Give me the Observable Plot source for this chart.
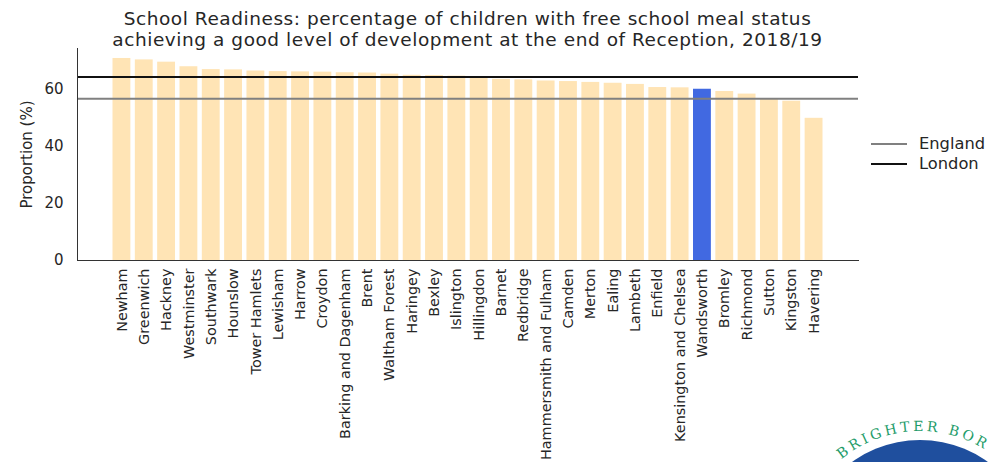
<!DOCTYPE html>
<html><head><meta charset="utf-8">
<script src="https://cdn.jsdelivr.net/npm/d3@7"></script>
<script src="https://cdn.jsdelivr.net/npm/@observablehq/plot@0.6"></script>
<style>
html,body{margin:0;padding:0;background:#fff;}
#wrap{position:relative;width:1004px;height:462px;overflow:hidden;font-family:"DejaVu Sans",sans-serif;color:#262626;}
#chart{position:absolute;left:0;top:0;}
#title{position:absolute;left:0;top:7.5px;width:935px;text-align:center;font-size:18.5px;letter-spacing:0.55px;line-height:21.5px;white-space:nowrap;}
#legend{position:absolute;left:871px;top:134px;font-size:16.3px;line-height:20px;}
#legend .row{display:flex;align-items:center;height:20px;}
#legend .sw{width:36px;height:2px;margin-right:12px;}
#logo{position:absolute;left:0;top:0;}
</style>
</head><body>
<div id="wrap">
  <div id="chart"></div>
  <div id="title">School Readiness: percentage of children with free school meal status<br>achieving a good level of development at the end of Reception, 2018/19</div>
  <div id="legend"></div>
  <svg id="logo" width="1004" height="462">
    <defs><path id="arc" d="M 797 554 A 123 123 0 0 1 1043 554"/></defs>
    <circle cx="920" cy="556" r="116" fill="#1f4f9e"/>
    <text font-family="'DejaVu Serif',serif" font-size="14" fill="#1e9c6a" letter-spacing="3.2"><textPath href="#arc" startOffset="108">BRIGHTER BOR</textPath></text>
  </svg>
</div>
<script>
const boroughs = ["Newham","Greenwich","Hackney","Westminster","Southwark","Hounslow","Tower Hamlets","Lewisham","Harrow","Croydon","Barking and Dagenham","Brent","Waltham Forest","Haringey","Bexley","Islington","Hillingdon","Barnet","Redbridge","Hammersmith and Fulham","Camden","Merton","Ealing","Lambeth","Enfield","Kensington and Chelsea","Wandsworth","Bromley","Richmond","Sutton","Kingston","Havering"];
const values = [70.9,70.4,69.6,68.0,67.0,66.9,66.5,66.3,66.2,66.1,65.9,65.8,65.4,65.0,64.9,64.7,63.9,63.6,63.4,63.0,62.8,62.5,62.2,61.8,60.7,60.6,60.1,59.3,58.4,56.6,55.9,49.9];
const highlight = "Wandsworth";
const refNames = ["England","London"];
const refValues = [56.8, 64.4];
const refColors = ["#808080","#111111"];
const yTicks = [0,20,40,60];

const data = boroughs.map((b,i)=>({borough:b, value:values[i], group: b===highlight ? "highlight" : "other"}));
const refs = refNames.map((n,i)=>({name:n, value:refValues[i], color:refColors[i]}));

const chart = Plot.plot({
  width: 1004, height: 462,
  marginTop: 48, marginBottom: 202, marginLeft: 77, marginRight: 146,
  style: {fontFamily: "'DejaVu Sans', sans-serif", color: "#262626", background: "transparent", overflow: "visible"},
  x: {domain: boroughs, paddingInner: 0.2, paddingOuter: 1.59, round: false, label: null},
  y: {domain: [0, 74.4], label: null},
  color: {domain: ["other","highlight"], range: ["#FFE4B5","#4169E1"]},
  marks: [
    Plot.barY(data, {x: "borough", y: "value", fill: "group"}),
    Plot.ruleY(refs, {y: "value", stroke: d => d.color, strokeWidth: 2}),
    Plot.axisX({tickSize: 0, tickPadding: 8, tickRotate: -90, fontSize: 14.4, label: null}),
    Plot.axisY({ticks: yTicks, tickSize: 0, tickPadding: 14, fontSize: 15, label: "Proportion (%)", labelAnchor: "center", labelArrow: "none", labelOffset: 56}),
    Plot.frame({anchor: "left", stroke: "#333"}),
    Plot.frame({anchor: "bottom", stroke: "#333"})
  ]
});
document.getElementById("chart").appendChild(chart);

const leg = document.getElementById("legend");
refs.forEach(r => {
  const row = document.createElement("div");
  row.className = "row";
  row.innerHTML = `<div class="sw" style="background:${r.color}"></div><span>${r.name}</span>`;
  leg.appendChild(row);
});
</script>
</body></html>
